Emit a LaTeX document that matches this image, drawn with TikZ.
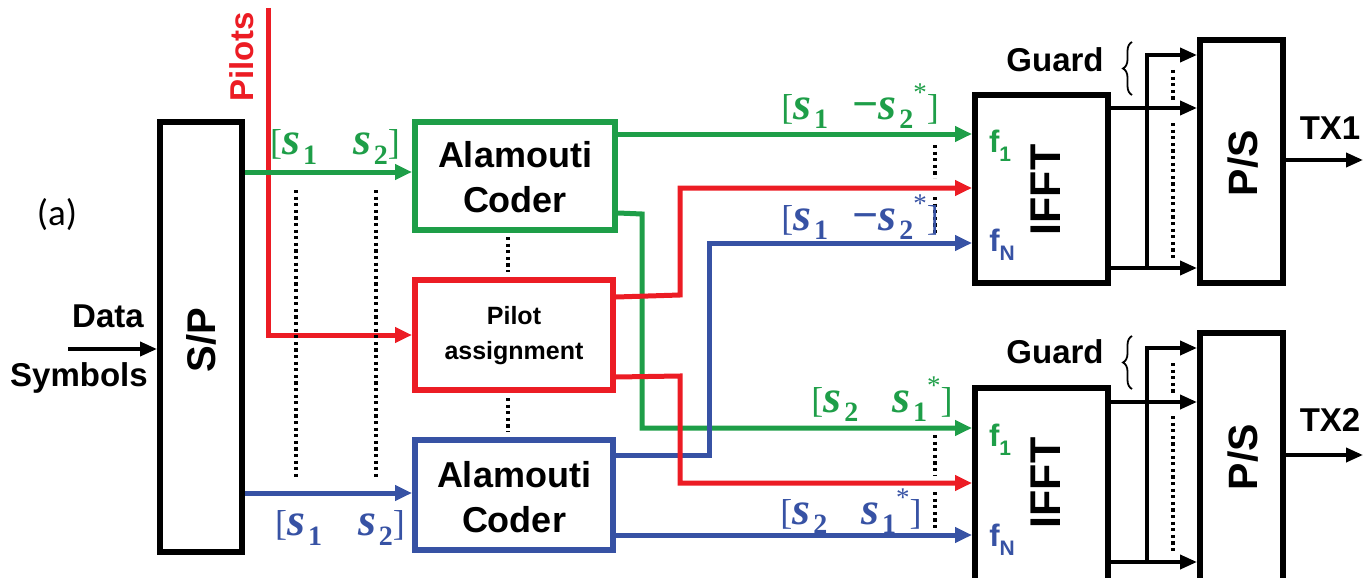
\documentclass[tikz,border=0pt]{standalone}
\usepackage{fontspec}
\setmainfont{Liberation Sans}
\newfontfamily\calfont{Carlito}
\newfontfamily\mserif{Liberation Serif}
\usetikzlibrary{arrows.meta,decorations.pathreplacing}
\definecolor{cg}{RGB}{30,158,72}
\definecolor{cr}{RGB}{236,28,36}
\definecolor{cb}{RGB}{55,82,164}
\newcommand\sv[1]{{\bfseries\itshape s}\hspace{3pt}\raisebox{-0.2em}{\bfseries\fontsize{28}{28}\selectfont #1}}
\newcommand\sst{\raisebox{0.4em}{\fontsize{27}{27}\selectfont *}}
\newcommand\lb{{\fontsize{36}{36}\selectfont[}}
\newcommand\rb{{\fontsize{36}{36}\selectfont]}}
\tikzset{
  blk/.style={draw, line width=6pt, inner sep=0pt},
  conn/.style={line width=5pt},
  arr/.style={-{Triangle[length=17pt,width=15pt]}},
  thinarr/.style={line width=3.8pt,-{Triangle[length=17pt,width=14pt]}},
  dots/.style={line width=3.4pt, dash pattern=on 3.2pt off 3.4pt},
  lab/.style={font=\bfseries\fontsize{33}{33}\selectfont, inner sep=0pt},
  mlab/.style={font=\mserif\fontsize{46}{46}\selectfont, inner sep=0pt},
  brc/.style={line width=1.8pt, decorate, decoration={brace, amplitude=9pt}},
}
\begin{document}
\begin{tikzpicture}[x=1pt,y=-1pt]
\useasboundingbox (0,0) rectangle (1363,578);
% blocks
\node[blk, minimum width=82pt, minimum height=430pt] (sp) at (201,337) {};
\node[blk, draw=cg, minimum width=200pt, minimum height=108pt] (ac1) at (515,176) {};
\node[blk, draw=cr, minimum width=198pt, minimum height=110pt] (pa) at (514,335) {};
\node[blk, draw=cb, minimum width=198pt, minimum height=110pt] (ac2) at (514,495) {};
\node[blk, minimum width=133pt, minimum height=188pt] (ifft1) at (1041.5,189) {};
\node[blk, minimum width=133pt, minimum height=194pt] (ifft2) at (1041.5,485) {};
\node[blk, minimum width=83pt, minimum height=243pt] (ps1) at (1241.5,161.5) {};
\node[blk, minimum width=83pt, minimum height=250pt] (ps2) at (1241.5,458) {};
% block texts
\node[lab, rotate=90, font=\bfseries\fontsize{40}{40}\selectfont] (spt) at (201,340) {S/P};
\node[lab, align=center, font=\bfseries\fontsize{36}{45}\selectfont] (ac1t) at (515,177) {Alamouti\\Coder};
\node[lab, align=center, font=\bfseries\fontsize{25}{35}\selectfont] (pat) at (514,336) {Pilot\\assignment};
\node[lab, align=center, font=\bfseries\fontsize{36}{45}\selectfont] (ac2t) at (514,497) {Alamouti\\Coder};
\node[lab, rotate=90, font=\bfseries\fontsize{43}{43}\selectfont] (ifft1t) at (1046,190) {IFFT};
\node[lab, rotate=90, font=\bfseries\fontsize{43}{43}\selectfont] (ifft2t) at (1046,483) {IFFT};
\node[lab, rotate=90, font=\bfseries\fontsize{41}{41}\selectfont] (ps1t) at (1243,163) {P/S};
\node[lab, rotate=90, font=\bfseries\fontsize{41}{41}\selectfont] (ps2t) at (1243,457) {P/S};
\node[lab, text=cg, font=\bfseries\fontsize{31}{31}\selectfont] (f11) at (1000,146) {f\raisebox{-0.3em}{\fontsize{21}{21}\selectfont 1}};
\node[lab, text=cb, font=\bfseries\fontsize{31}{31}\selectfont] (fn1) at (1002,245) {f\raisebox{-0.3em}{\fontsize{21}{21}\selectfont N}};
\node[lab, text=cg, font=\bfseries\fontsize{31}{31}\selectfont] (f12) at (1000,440) {f\raisebox{-0.3em}{\fontsize{21}{21}\selectfont 1}};
\node[lab, text=cb, font=\bfseries\fontsize{31}{31}\selectfont] (fn2) at (1002,540) {f\raisebox{-0.3em}{\fontsize{21}{21}\selectfont N}};
% left labels
\node[inner sep=0pt, font=\calfont\fontsize{37}{37}\selectfont] (alab) at (57,215) {(a)};
\node[lab] (data) at (108,316) {Data};
\node[lab] (sym) at (79,378) {Symbols};
\coordinate (din) at (68,349);
\draw[thinarr] (din) -- (sp.west |- din);
\node[lab, text=cr, rotate=90] (pil) at (242,57) {Pilots};
% inputs to coders
\coordinate (ptop) at (268,8);
\draw[conn, cr, arr] (ptop) |- (pa.west);
\draw[conn, cg, arr] (sp.east |- 0,172) -- (ac1.west |- 0,172);
\draw[conn, cb, arr] (sp.east |- 0,493) -- (ac2.west |- 0,493);
\draw[dots] (296,190) -- (296,480);
\draw[dots] (376,190) -- (376,480);
\draw[dots] (508,237) -- (508,272);
\draw[dots] (508,398) -- (508,432);
\node[mlab, text=cg] (g1) at (335,147) {\lb\sv{1}\hspace{36pt}\sv{2}\rb};
\node[mlab, text=cb] (b1) at (340,528) {\lb\sv{1}\hspace{36pt}\sv{2}\rb};
% coder outputs
\draw[conn, cg, arr] (ac1.east |- 0,134) -- (ifft1.west |- 0,134);
\draw[conn, cg, arr] (ac1.east |- 0,213) -- (642,214) -- (642,428) -- (ifft2.west |- 0,428);
\draw[conn, cr, arr] (pa.east |- 0,297) -- (680,295) -- (680,188) -- (ifft1.west |- 0,188);
\draw[conn, cb, arr] (ac2.east |- 0,455) -- (709,455) -- (709,243) -- (ifft1.west |- 0,243);
\draw[conn, cr, arr] (pa.east |- 0,377) -- (680,376) -- (680,483) -- (ifft2.west |- 0,483);
\draw[conn, cb, arr] (ac2.east |- 0,535) -- (ifft2.west |- 0,535);
\draw[dots] (935,145) -- (935,178);
\draw[dots] (935,197) -- (935,235);
\draw[dots] (935,435) -- (935,475);
\draw[dots] (935,492) -- (935,528);
\node[mlab, text=cg] (g2) at (860,106) {\lb\sv{1}\hspace{24pt}\textbf{−}\sv{2}\sst\rb};
\node[mlab, text=cb] (b2) at (860,217) {\lb\sv{1}\hspace{24pt}\textbf{−}\sv{2}\sst\rb};
\node[mlab, text=cg] (g3) at (882,399) {\lb\sv{2}\hspace{34pt}\sv{1}\sst\rb};
\node[mlab, text=cb] (b3) at (851,511) {\lb\sv{2}\hspace{34pt}\sv{1}\sst\rb};
% IFFT -> P/S (top)
\draw[thinarr] (ifft1.east |- 0,108) -- (ps1.west |- 0,108);
\draw[thinarr] (ifft1.east |- 0,268) -- (ps1.west |- 0,268);
\coordinate (gj1) at (1147,268);
\draw[thinarr] (gj1) |- (ps1.west |- 0,55);
\draw[dots] (1173,70) -- (1173,100);
\draw[dots] (1173,123) -- (1173,258);
\node[lab] (guard1) at (1055,60) {Guard};
\coordinate (br1a) at (1132,95);
\coordinate (br1b) at (1132,42);
\draw[brc] (br1a) -- (br1b);
\coordinate (tx1e) at (1363,160);
\draw[thinarr] (ps1.east |- tx1e) -- (tx1e);
\node[lab] (tx1) at (1330,128) {TX1};
% IFFT -> P/S (bottom)
\draw[thinarr] (ifft2.east |- 0,402) -- (ps2.west |- 0,402);
\draw[thinarr] (ifft2.east |- 0,562) -- (ps2.west |- 0,562);
\coordinate (gj2) at (1147,562);
\draw[thinarr] (gj2) |- (ps2.west |- 0,348);
\draw[dots] (1173,363) -- (1173,393);
\draw[dots] (1173,416) -- (1173,552);
\node[lab] (guard2) at (1055,352) {Guard};
\coordinate (br2a) at (1132,389);
\coordinate (br2b) at (1132,336);
\draw[brc] (br2a) -- (br2b);
\coordinate (tx2e) at (1363,455);
\draw[thinarr] (ps2.east |- tx2e) -- (tx2e);
\node[lab] (tx2) at (1330,420) {TX2};
\end{tikzpicture}
\end{document}
